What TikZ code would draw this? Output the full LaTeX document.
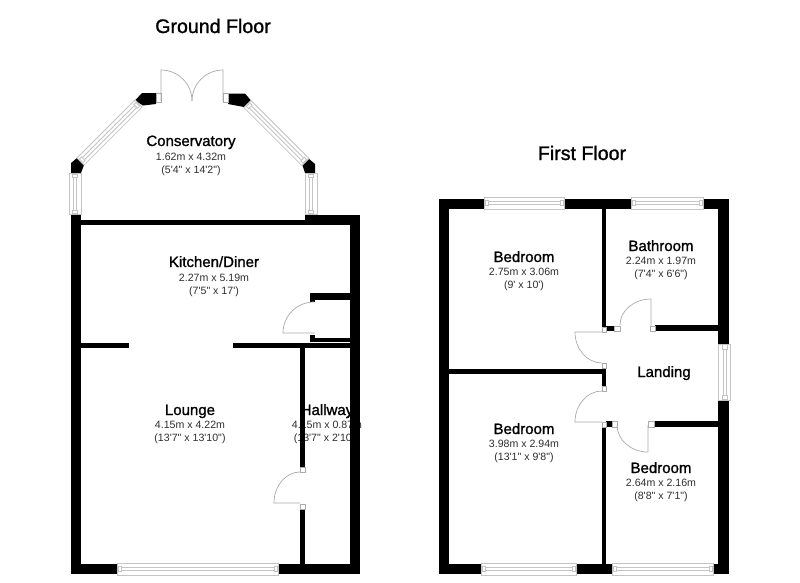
\documentclass[tikz,border=0pt]{standalone}
\usepackage{fontspec}
\newfontfamily\planfont{Liberation Sans}
\newfontfamily\planheavy[FakeBold=1.2]{Liberation Sans}
\definecolor{framegrey}{HTML}{C4C4C4}
\definecolor{doorgrey}{HTML}{ABABAB}
\definecolor{dimgrey}{HTML}{2E2E2E}
\tikzset{
  titletext/.style={font=\planheavy\fontsize{19.6}{22}\selectfont,text=black,inner sep=0pt,anchor=base},
  roomtext/.style={font=\planheavy\fontsize{15}{17}\selectfont,text=black,inner sep=0pt,anchor=base},
  dimtext/.style={font=\planfont\fontsize{10.6}{13}\selectfont,text=dimgrey,inner sep=0pt,anchor=base},
  wallfill/.style={fill=black,draw=none},
  jamb/.style={draw=doorgrey,fill=white,line width=.6pt},
  doorline/.style={draw=doorgrey,line width=.7pt},
  glazeline/.style={draw=framegrey,fill=white,line width=.8pt},
}
% x, y, angle, length, width
\newcommand{\glazing}[5]{%
  \begin{scope}[shift={(#1,#2)},rotate=#3]
    \path[glazeline] (0,0) rectangle (#4,#5);
    \pgfmathsetmacro{\wmid}{#5/2}
    \pgfmathsetmacro{\inend}{#4-4}
    \pgfmathsetmacro{\tkend}{#4-1}
    \path[glazeline] (4,\wmid-1.5) rectangle (\inend,\wmid+1.5);
    \path[glazeline] (1,\wmid-2.5) rectangle (4,\wmid+2.5);
    \path[glazeline] (\inend,\wmid-2.5) rectangle (\tkend,\wmid+2.5);
  \end{scope}}
\begin{document}
\begin{tikzpicture}[x=1pt,y=-1pt]
\useasboundingbox (0,0) rectangle (800,582);
\fill[white] (0,0) rectangle (800,582);

% texts, below the walls
\node[titletext] (tground) at (213,33) {Ground Floor};
\node[titletext] (tfirst) at (582,160) {First Floor};
\node[roomtext] (cons) at (191,146) {Conservatory};
\node[dimtext] (cons1) at (191,160) {1.62m x 4.32m};
\node[dimtext] (cons2) at (191,173) {(5'4" x 14'2")};
\node[roomtext] (kit) at (214,267) {Kitchen/Diner};
\node[dimtext] (kit1) at (214,281) {2.27m x 5.19m};
\node[dimtext] (kit2) at (214,294) {(7'5" x 17')};
\node[roomtext] (lou) at (190,415) {Lounge};
\node[dimtext] (lou1) at (190,428) {4.15m x 4.22m};
\node[dimtext] (lou2) at (190,441) {(13'7" x 13'10")};
\node[roomtext] (hal) at (327,415) {Hallway};
\node[dimtext] (hal1) at (327,428) {4.15m x 0.87m};
\node[dimtext] (hal2) at (326.5,441) {(13'7" x 2'10")};
\node[roomtext] (bed1) at (524,262) {Bedroom};
\node[dimtext] (bed1a) at (524,275) {2.75m x 3.06m};
\node[dimtext] (bed1b) at (524,288) {(9' x 10')};
\node[roomtext] (bath) at (661,251) {Bathroom};
\node[dimtext] (bath1) at (661,264) {2.24m x 1.97m};
\node[dimtext] (bath2) at (661,277) {(7'4" x 6'6")};
\node[roomtext] (land) at (664,377) {Landing};
\node[roomtext] (bed2) at (524,434) {Bedroom};
\node[dimtext] (bed2a) at (524,447) {3.98m x 2.94m};
\node[dimtext] (bed2b) at (524,460) {(13'1" x 9'8")};
\node[roomtext] (bed3) at (661,473) {Bedroom};
\node[dimtext] (bed3a) at (661,486) {2.64m x 2.16m};
\node[dimtext] (bed3b) at (661,499) {(8'8" x 7'1")};

% ---- ground floor walls
\path[wallfill] (71,214) rectangle (81,574);
\path[wallfill] (71,563.5) rectangle (118,574);
\path[wallfill] (278,563.5) rectangle (360,574);
\path[wallfill] (350,215) rectangle (360,574);
\path[wallfill] (81,220) rectangle (305,225);
\path[wallfill] (305,215) rectangle (360,225);
\path[wallfill] (81,343) rectangle (129,348);
\path[wallfill] (233,343) rectangle (350,348);
\path[wallfill] (300,348) rectangle (305,467);
\path[wallfill] (300,509) rectangle (305,563.5);
\path[wallfill] (310,293) rectangle (350,300);
\path[wallfill] (310,293) rectangle (315,302);
\path[wallfill] (310,338) rectangle (350,342);
\path[wallfill] (310,335) rectangle (315,342);
% conservatory piers
\path[wallfill] (156,93) -- (142,93) -- (135,100.5) -- (143,105.5) -- (156,104) -- cycle;
\path[wallfill] (228,93.5) -- (245,93.5) -- (251,100.5) -- (244,107) -- (228,104) -- cycle;
\path[wallfill] (71,163) -- (77,158) -- (84,165) -- (81,173) -- (71,173) -- cycle;
\path[wallfill] (302,164) -- (308,158) -- (315,164) -- (315,173) -- (305,173) -- cycle;

% ---- ground floor glazing
\glazing{77}{158}{45}{82}{10}
\glazing{251}{100.5}{-45}{82}{10}
\glazing{81}{173}{-90}{41}{12}
\glazing{317}{173}{-90}{41}{12}
\glazing{117.5}{563}{0}{160.5}{12}

% ---- ground floor doors
\path[jamb] (156,93.5) rectangle (161,102);
\path[jamb] (223,93.5) rectangle (228,102);
\draw[doorline] (161,101) -- (161,70) arc[start angle=90,end angle=0,radius=31pt];
\draw[doorline] (223,101) -- (223,70) arc[start angle=90,end angle=180,radius=31pt];
\draw[doorline] (315,333) -- (283,333) arc[start angle=180,end angle=90,radius=31pt];
\draw[doorline] (300,503) -- (274,503) arc[start angle=180,end angle=90,x radius=26pt,y radius=31pt];
\path[jamb] (300,467) rectangle (305,472);
\path[jamb] (300,504) rectangle (305,509);

% ---- first floor walls
\path[wallfill] (438.5,198.5) rectangle (449,574);
\path[wallfill] (438.5,198.5) rectangle (729,209);
\path[wallfill] (718,198.5) rectangle (729,574);
\path[wallfill] (438.5,563.5) rectangle (729,574);
\path[wallfill] (602,209) rectangle (606,327);
\path[wallfill] (606,326) rectangle (614,331);
\path[wallfill] (655,325) rectangle (718,331);
\path[wallfill] (449,369) rectangle (602,374);
\path[wallfill] (602,368) rectangle (606,386);
\path[wallfill] (606,421) rectangle (612,427);
\path[wallfill] (654,421) rectangle (718,427);
\path[wallfill] (602,427) rectangle (606,563.5);

% ---- first floor glazing
\glazing{484}{197}{0}{80}{12}
\glazing{631}{197}{0}{72}{12}
\glazing{481}{563}{0}{95}{12}
\glazing{612}{563}{0}{101}{12}
\path[glazeline] (718,344) rectangle (730,400);
\path[glazeline] (723,346) rectangle (726,398);
\path[glazeline] (722,344.8) rectangle (727,349);
\path[glazeline] (722,395) rectangle (727,399);

% ---- first floor doors
\path[jamb] (602,327) rectangle (606,332);
\path[jamb] (614,326) rectangle (620,331);
\path[jamb] (650,326) rectangle (655,331);
\path[jamb] (602,363) rectangle (606,368);
\path[jamb] (602,386) rectangle (606,391);
\path[jamb] (602,422) rectangle (606,427);
\path[jamb] (612,421) rectangle (617,427);
\path[jamb] (648,421) rectangle (654,427);
\draw[doorline] (651,326) -- (651,299) arc[start angle=90,end angle=180,x radius=31pt,y radius=26pt];
\draw[doorline] (602,332) -- (575,332) arc[start angle=180,end angle=270,x radius=27pt,y radius=31pt];
\draw[doorline] (602,422) -- (575,422) arc[start angle=180,end angle=90,x radius=27pt,y radius=31pt];
\draw[doorline] (648,425) -- (648,452) arc[start angle=270,end angle=180,x radius=31pt,y radius=27pt];
\end{tikzpicture}
\end{document}
